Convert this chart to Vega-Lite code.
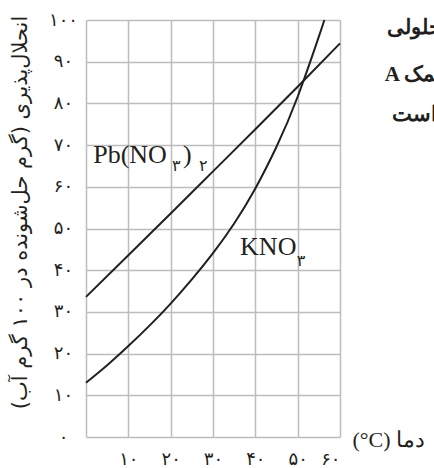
{
  "$schema": "https://vega.github.io/schema/vega-lite/v6.json",
  "width": 254,
  "height": 417,
  "autosize": {"type": "none"},
  "padding": {"left": 86, "top": 20, "right": 94, "bottom": 31},
  "background": "white",
  "config": {"view": {"stroke": null}},
  "datasets": {
    "curves": [
      {"substance": "Pb(NO3)2", "t": 0, "s": 33.6},
      {"substance": "Pb(NO3)2", "t": 10, "s": 43.6},
      {"substance": "Pb(NO3)2", "t": 20, "s": 53.6},
      {"substance": "Pb(NO3)2", "t": 30, "s": 63.7},
      {"substance": "Pb(NO3)2", "t": 40, "s": 73.8},
      {"substance": "Pb(NO3)2", "t": 50, "s": 84.0},
      {"substance": "Pb(NO3)2", "t": 60, "s": 94.4},
      {"substance": "KNO3", "t": 0, "s": 13.0},
      {"substance": "KNO3", "t": 5, "s": 17.2},
      {"substance": "KNO3", "t": 10, "s": 21.8},
      {"substance": "KNO3", "t": 15, "s": 26.7},
      {"substance": "KNO3", "t": 20, "s": 32.0},
      {"substance": "KNO3", "t": 25, "s": 37.8},
      {"substance": "KNO3", "t": 30, "s": 44.1},
      {"substance": "KNO3", "t": 35, "s": 51.2},
      {"substance": "KNO3", "t": 40, "s": 59.6},
      {"substance": "KNO3", "t": 45, "s": 69.6},
      {"substance": "KNO3", "t": 50, "s": 81.6},
      {"substance": "KNO3", "t": 55, "s": 96.0},
      {"substance": "KNO3", "t": 56.3, "s": 100}
    ],
    "labels": [
      {"part": "Pb(NO", "kind": "main", "t": 1.7, "s": 65.7},
      {"part": "۳", "kind": "sub", "t": 20.3, "s": 63.9},
      {"part": ")", "kind": "main", "t": 22.9, "s": 65.7},
      {"part": "۲", "kind": "sub", "t": 26.7, "s": 63.9},
      {"part": "KNO", "kind": "main", "t": 36.4, "s": 43.6},
      {"part": "۳", "kind": "sub", "t": 49.8, "s": 41.1}
    ],
    "page": [
      {"line": "محلولی", "t": 71.1, "s": 98.1},
      {"line": "A نمک", "t": 70.6, "s": 86.8},
      {"line": "است", "t": 72.3, "s": 77.2}
    ]
  },
  "encoding": {
    "x": {
      "field": "t",
      "type": "quantitative",
      "scale": {"domain": [0, 60], "nice": false, "zero": false},
      "axis": {
        "values": [0, 10, 20, 30, 40, 50, 60],
        "domain": false,
        "ticks": false,
        "grid": true,
        "gridColor": "#bdbdbd",
        "gridWidth": 1.5,
        "labelExpr": "['', '۱۰', '۲۰', '۳۰', '۴۰', '۵۰', '۶۰'][round(datum.value / 10)]",
        "labelFont": "DejaVu Sans",
        "labelFontSize": 18,
        "labelColor": "#231f20",
        "labelBaseline": "middle",
        "labelPadding": 22,
        "labelDx": -11,
        "title": "(°C) دما",
        "titleFont": "Liberation Serif",
        "titleFontSize": 22,
        "titleFontWeight": "normal",
        "titleColor": "#231f20",
        "titleAnchor": "start",
        "titleAlign": "left",
        "titleBaseline": "middle",
        "titleX": 266,
        "titleY": 2
      }
    },
    "y": {
      "field": "s",
      "type": "quantitative",
      "scale": {"domain": [0, 100], "nice": false, "zero": false},
      "axis": {
        "values": [0, 10, 20, 30, 40, 50, 60, 70, 80, 90, 100],
        "domain": false,
        "ticks": false,
        "grid": true,
        "gridColor": "#bdbdbd",
        "gridWidth": 1.5,
        "labelExpr": "['۰', '۱۰', '۲۰', '۳۰', '۴۰', '۵۰', '۶۰', '۷۰', '۸۰', '۹۰', '۱۰۰'][round(datum.value / 10)]",
        "labelFont": "DejaVu Sans",
        "labelFontSize": 18,
        "labelColor": "#231f20",
        "labelAlign": "center",
        "labelBaseline": "middle",
        "labelPadding": 23,
        "title": "‏انحلال‌پذیری (گرم حل‌شونده در ۱۰۰ گرم آب)‏",
        "titleFont": "DejaVu Sans",
        "titleFontSize": 21,
        "titleFontWeight": "normal",
        "titleColor": "#231f20",
        "titleAngle": -90,
        "titleAlign": "center",
        "titleBaseline": "middle",
        "titleX": -66,
        "titleY": 192
      }
    }
  },
  "layer": [
    {
      "data": {"name": "curves"},
      "mark": {"type": "line", "interpolate": "natural", "color": "#231f20", "strokeWidth": 2},
      "encoding": {"detail": {"field": "substance"}}
    },
    {
      "data": {"name": "labels"},
      "transform": [{"filter": "datum.kind === 'main'"}],
      "mark": {"type": "text", "align": "left", "baseline": "alphabetic", "font": "Liberation Serif", "fontSize": 26, "color": "#231f20"},
      "encoding": {"text": {"field": "part"}}
    },
    {
      "data": {"name": "labels"},
      "transform": [{"filter": "datum.kind === 'sub'"}],
      "mark": {"type": "text", "align": "left", "baseline": "alphabetic", "font": "DejaVu Sans", "fontSize": 16, "color": "#231f20"},
      "encoding": {"text": {"field": "part"}}
    },
    {
      "data": {"name": "page"},
      "mark": {"type": "text", "align": "left", "baseline": "middle", "font": "Liberation Serif", "fontWeight": "bold", "fontSize": 21, "color": "#231f20"},
      "encoding": {"text": {"field": "line"}}
    }
  ]
}
